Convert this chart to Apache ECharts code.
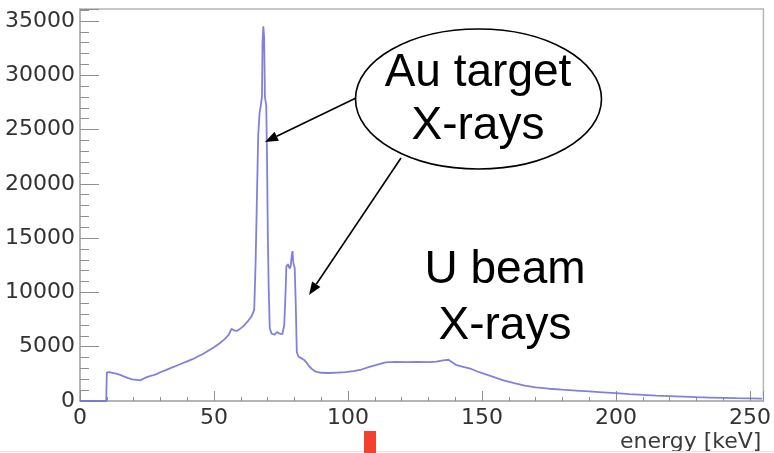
<!DOCTYPE html>
<html>
<head>
<meta charset="utf-8">
<script src="https://cdn.jsdelivr.net/npm/echarts@6/dist/echarts.min.js"></script>
<style>
html,body{margin:0;padding:0;background:#fff;}
#chart{width:774px;height:453px;}
</style>
</head>
<body>
<div id="chart"></div>
<script>
// energy in keV
const energies = [0, 9.8, 10, 11, 12, 13.5, 15, 16.5, 18, 19.5, 21, 22.5, 24, 25.5, 27, 28.5, 30, 32, 34, 36, 38, 40, 42, 44, 46, 48, 50, 52, 54, 55.5, 56.5, 57.5, 58.5, 59.5, 61, 62.5, 64, 65,
  65.5, 66, 66.5, 67, 67.5, 67.9, 68.1, 68.4, 68.7, 69, 69.5, 69.8, 70.1, 70.4, 70.8, 71.5, 72.5, 73.5, 74.5, 75.5, 76.2, 76.7, 77.0, 77.6, 78.2, 78.6, 79.0, 79.3, 79.6, 80.1, 80.5, 80.9,
  81.5, 82.5, 83.5, 84.5, 85.5, 86.5, 88, 90, 93, 96, 99, 102, 105, 108, 111, 114, 118, 122, 126, 130, 133, 135.5, 137.5, 139, 140.5, 143, 146, 149, 152, 155, 158, 162, 166, 170,
  175, 180, 185, 190, 195, 200, 205, 210, 215, 220, 225, 230, 235, 240, 245, 250, 254.5];
// counts
const counts = [0, 0, 2640, 2650, 2600, 2520, 2400, 2250, 2100, 2000, 1950, 1900, 2100, 2250, 2350, 2480, 2650, 2850, 3050, 3250, 3450, 3650, 3850, 4100, 4350, 4650, 4950, 5300, 5700, 6100, 6650, 6500, 6450, 6600, 6900, 7300, 7800, 8400,
  12500, 18500, 24500, 26500, 27300, 28000, 33000, 34500, 33500, 28000, 27200, 22000, 15000, 10500, 6700, 6200, 6100, 6350, 6200, 6150, 7000, 10000, 12400, 12600, 12200, 12400, 13400, 13800, 12700, 12300, 9000, 4500,
  4100, 3950, 3800, 3550, 3200, 2950, 2700, 2600, 2580, 2620, 2660, 2750, 2900, 3150, 3350, 3550, 3600, 3580, 3600, 3580, 3620, 3750, 3800, 3550, 3300, 3150, 2950, 2650, 2400, 2150, 1900, 1650, 1420, 1260,
  1130, 1040, 960, 880, 800, 720, 640, 570, 500, 450, 400, 350, 320, 290, 260, 240, 220];
const xTicks = [0, 50, 100, 150, 200, 250];
const yTicks = [0, 5000, 10000, 15000, 20000, 25000, 30000, 35000];

const chart = echarts.init(document.getElementById('chart'));
const seriesData = energies.map((e, i) => [e, counts[i]]);

function arrow(x1, y1, x2, y2, color) {
  const ang = Math.atan2(y2 - y1, x2 - x1);
  const L = 13, W = 5;
  const bx = x2 - L * Math.cos(ang), by = y2 - L * Math.sin(ang);
  const px = -Math.sin(ang) * W, py = Math.cos(ang) * W;
  return [
    {type: 'line', shape: {x1: x1, y1: y1, x2: bx, y2: by}, style: {stroke: color, lineWidth: 1.6}, z: 100},
    {type: 'polygon', shape: {points: [[x2, y2], [bx + px, by + py], [bx - px, by - py]]}, style: {fill: color}, z: 100}
  ];
}

const labelFont = 'DejaVu Sans';
const option = {
  animation: false,
  backgroundColor: '#fff',
  grid: {left: 80, right: 7, top: 9, bottom: 51, show: true, borderColor: '#b5b5b5', borderWidth: 1.5, containLabel: false},
  xAxis: {
    type: 'value', min: 0, max: 255, interval: 50,
    name: 'energy [keV]', nameLocation: 'end', nameGap: 0, nameMoveOverlap: false,
    nameTextStyle: {fontFamily: labelFont, fontSize: 22, color: '#3a3a3a', align: 'right', verticalAlign: 'top', padding: [30, 2, 0, 0]},
    axisLine: {show: true, onZero: false, lineStyle: {color: '#b0b0b0', width: 1.5}},
    axisTick: {show: true, inside: true, length: 10, lineStyle: {color: '#8f8f8f', width: 1}},
    minorTick: {show: true, splitNumber: 5, length: 4, lineStyle: {color: '#8f8f8f', width: 1}},
    splitLine: {show: false},
    axisLabel: {fontFamily: labelFont, fontSize: 22, color: '#333', margin: 6, showMaxLabel: false,
      formatter: v => xTicks.indexOf(v) >= 0 ? String(v) : ''}
  },
  yAxis: {
    type: 'value', min: 0, max: 36100, interval: 5000,
    axisLine: {show: true, onZero: false, lineStyle: {color: '#b0b0b0', width: 1.5}},
    axisTick: {show: true, inside: true, length: 19, lineStyle: {color: '#8f8f8f', width: 1}},
    minorTick: {show: true, splitNumber: 5, length: 9, lineStyle: {color: '#8f8f8f', width: 1}},
    splitLine: {show: false},
    axisLabel: {fontFamily: labelFont, fontSize: 22, color: '#333', margin: 5, showMaxLabel: false,
      formatter: v => yTicks.indexOf(v) >= 0 ? String(v) : ''}
  },
  series: [{
    type: 'line', data: seriesData, showSymbol: false, symbol: 'none',
    lineStyle: {color: '#7373d9', width: 1.8, opacity: 0.9},
    clip: true, z: 5
  }],
  graphic: [
    {type: 'rect', shape: {x: 0, y: 451, width: 774, height: 1}, style: {fill: '#e2e2e2'}, z: 1},
    {type: 'rect', shape: {x: 364, y: 431, width: 12, height: 22}, style: {fill: '#f4412d'}, z: 50},
    {type: 'ellipse', shape: {cx: 478.5, cy: 99, rx: 123, ry: 70}, style: {fill: '#fff', stroke: '#000', lineWidth: 1.6}, z: 90},
    {type: 'text', x: 478, y: 73, style: {text: 'Au target', fontFamily: 'Liberation Sans, Arial', fontSize: 46, fill: '#000', align: 'center', verticalAlign: 'middle'}, z: 95},
    {type: 'text', x: 478, y: 126, style: {text: 'X-rays', fontFamily: 'Liberation Sans, Arial', fontSize: 46, fill: '#000', align: 'center', verticalAlign: 'middle'}, z: 95},
    {type: 'text', x: 505, y: 270, style: {text: 'U beam', fontFamily: 'Liberation Sans, Arial', fontSize: 46, fill: '#000', align: 'center', verticalAlign: 'middle'}, z: 95},
    {type: 'text', x: 505, y: 326, style: {text: 'X-rays', fontFamily: 'Liberation Sans, Arial', fontSize: 46, fill: '#000', align: 'center', verticalAlign: 'middle'}, z: 95}
  ].concat(arrow(356, 98, 265, 142, '#000')).concat(arrow(401, 158, 309, 295, '#000'))
};
chart.setOption(option);
</script>
</body>
</html>
